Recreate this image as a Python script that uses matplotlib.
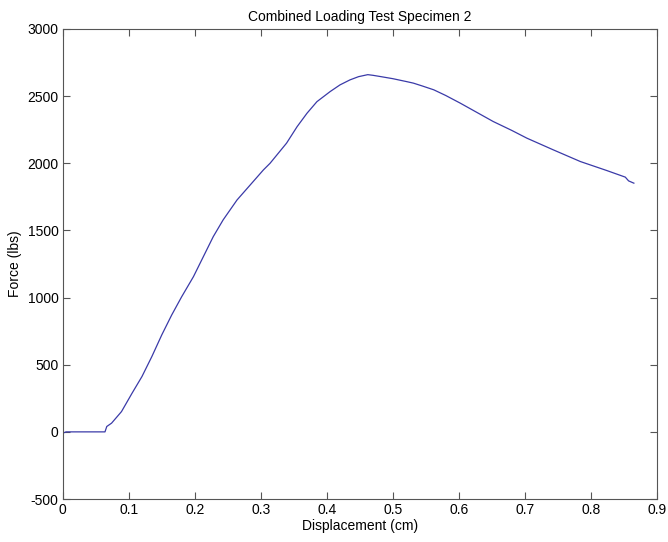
import matplotlib
matplotlib.use("Agg")
import matplotlib.pyplot as plt

displacement = [0.0, 0.005, 0.064, 0.0667, 0.074, 0.089, 0.105, 0.120, 0.135, 0.150,
                0.165, 0.180, 0.198, 0.213, 0.228, 0.243, 0.264, 0.284, 0.304, 0.314,
                0.329, 0.339, 0.355, 0.370, 0.385, 0.405, 0.420, 0.435,
                0.448, 0.462, 0.470, 0.481, 0.500, 0.521, 0.531, 0.545, 0.562,
                0.580, 0.602, 0.625, 0.652, 0.680, 0.703, 0.743, 0.784, 0.824, 0.852,
                0.857, 0.865]
force = [-10, 0, 0, 40, 65, 151, 288, 412, 561, 722,
         870, 1005, 1156, 1305, 1454, 1579, 1727, 1839, 1951, 2000,
         2090, 2150, 2273, 2373, 2459, 2534, 2584, 2621,
         2645, 2660, 2655, 2646, 2630, 2608, 2597, 2575, 2547,
         2505, 2448, 2385, 2311, 2245, 2187, 2100, 2013, 1946, 1897,
         1869, 1852]

xticks = [0, 0.1, 0.2, 0.3, 0.4, 0.5, 0.6, 0.7, 0.8, 0.9]
xticklabels = ["0", "0.1", "0.2", "0.3", "0.4", "0.5", "0.6", "0.7", "0.8", "0.9"]
yticks = [-500, 0, 500, 1000, 1500, 2000, 2500, 3000]
yticklabels = ["-500", "0", "500", "1000", "1500", "2000", "2500", "3000"]

plt.rcParams['font.family'] = ['Liberation Sans', 'DejaVu Sans']

fig = plt.figure(figsize=(6.68, 5.42), dpi=100)
ax = fig.add_axes([0.0939, 0.0793, 0.8896, 0.8672])
ax.plot(displacement, force, color='#3a3aa8', linewidth=0.9)
ax.set_xlim(0, 0.9)
ax.set_ylim(-500, 3000)
ax.set_xticks(xticks)
ax.set_xticklabels(xticklabels)
ax.set_yticks(yticks)
ax.set_yticklabels(yticklabels)
ax.tick_params(direction='in', top=True, right=True, labelsize=10, length=5,
               color='#555555', width=0.8, pad=3)
for s in ax.spines.values():
    s.set_color('#555555')
    s.set_linewidth(0.8)
ax.set_xlabel('Displacement (cm)', fontsize=10, labelpad=1)
ax.set_ylabel('Force (lbs)', fontsize=10, labelpad=4)
ax.set_title('Combined Loading Test Specimen 2', fontsize=10, pad=6)
fig.savefig('out.png', dpi=100)
